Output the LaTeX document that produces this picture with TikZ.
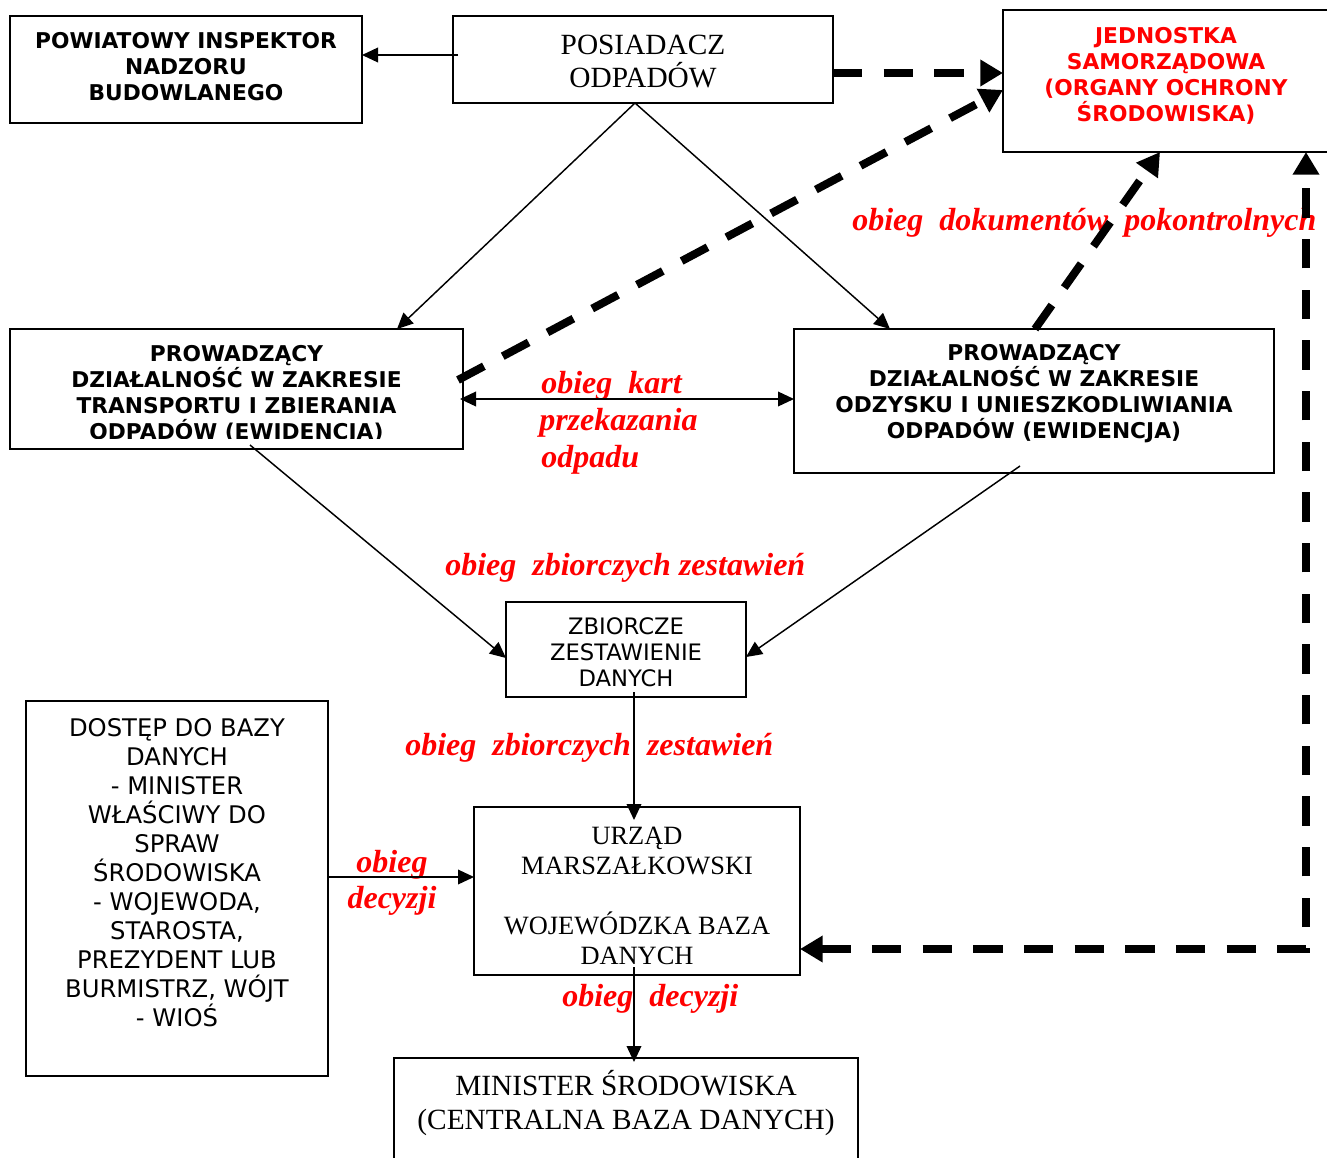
\documentclass[tikz,border=0pt]{standalone}
\usepackage{fontspec}
\setmainfont{Liberation Serif}
\newfontfamily\verd{DejaVu Sans}
\newfontfamily\tnr{Liberation Serif}
\usetikzlibrary{arrows.meta,fit,calc}
\tikzset{
  box/.style={draw, line width=1.5pt, inner sep=0pt, outer sep=0pt},
  vb/.style={font=\verd\bfseries\fontsize{16.3pt}{19.5pt}\selectfont, align=center, inner sep=0pt},
  vr/.style={font=\verd\fontsize{17pt}{19.5pt}\selectfont, align=center, inner sep=0pt},
  tr/.style={align=center, inner sep=0pt},
  lbl/.style={font=\tnr\bfseries\itshape\fontsize{24pt}{28pt}\selectfont, text=red, inner sep=0pt},
  arr/.style={line width=1.1pt, -{Triangle[length=12pt,width=11pt]}},
  darr/.style={line width=6pt, dash pattern=on 22pt off 16pt, -{Triangle[length=17pt,width=19pt]}},
  ddarr/.style={line width=6pt, dash pattern=on 22pt off 16pt, {Triangle[length=17pt,width=19pt]}-{Triangle[length=17pt,width=19pt]}}
}
\begin{document}
\begin{tikzpicture}[x=0.75pt,y=-0.75pt]
\useasboundingbox (0,0) rectangle (1327,1157);
% boxes
\node[box, fit={(10,16)(362,123)}] (pinb) {};
\node[box, fit={(453,16)(833,103)}] (posi) {};
\node[box, fit={(1003,10)(1345,152)}] (jst) {};
\node[box, fit={(10,329)(463,449)}] (lp) {};
\node[box, fit={(794,329)(1274,473)}] (rp) {};
\node[box, fit={(506,602)(746,697)}] (zb) {};
\node[box, fit={(26,701)(328,1076)}] (dost) {};
\node[box, fit={(474,807)(800,975)}] (urz) {};
\node[box, fit={(394,1058)(858,1175)}] (mini) {};
% texts
\node[vb] (pinb-t) at (186,67) {POWIATOWY INSPEKTOR\\NADZORU\\BUDOWLANEGO};
\node[tr, font=\tnr\fontsize{22pt}{24.75pt}\selectfont] (posi-t) at (643,61.5) {POSIADACZ\\ODPADÓW};
\node[vb, text=red] (jst-t) at (1166,76) {JEDNOSTKA\\SAMORZĄDOWA\\(ORGANY OCHRONY\\ŚRODOWISKA)};
\begin{scope}
\clip (10,329) rectangle (463,438);
\node[vb] (lp-t) at (236.5,394.5) {PROWADZĄCY\\DZIAŁALNOŚĆ W ZAKRESIE\\TRANSPORTU I ZBIERANIA\\ODPADÓW (EWIDENCJA)};
\end{scope}
\node[vb] (rp-t) at (1034,394) {PROWADZĄCY\\DZIAŁALNOŚĆ W ZAKRESIE\\ODZYSKU I UNIESZKODLIWIANIA\\ODPADÓW (EWIDENCJA)};
\node[vr] (zb-t) at (626,652.5) {ZBIORCZE\\ZESTAWIENIE\\DANYCH};
\node[vr, font=\verd\fontsize{18.2pt}{21.75pt}\selectfont] (dost-t) at (177,873) {DOSTĘP DO BAZY\\DANYCH\\- MINISTER\\WŁAŚCIWY DO\\SPRAW\\ŚRODOWISKA\\- WOJEWODA,\\STAROSTA,\\PREZYDENT LUB\\BURMISTRZ, WÓJT\\- WIOŚ};
\node[tr, font=\tnr\fontsize{19.8pt}{22.5pt}\selectfont] (urz-t) at (637,895.5) {URZĄD\\MARSZAŁKOWSKI\\[22.5pt]WOJEWÓDZKA BAZA\\DANYCH};
\node[tr, font=\tnr\fontsize{22pt}{25.5pt}\selectfont] (mini-t) at (626,1103.5) {MINISTER ŚRODOWISKA\\(CENTRALNA BAZA DANYCH)};
% labels
\node[lbl, anchor=mid west] (l1a) at (541,390) {obieg\ \ kart};
\node[lbl, anchor=mid west] (l1b) at (539,427) {przekazania};
\node[lbl, anchor=mid west] (l1c) at (541,464) {odpadu};
\node[lbl, anchor=mid west] (l2) at (852,227) {obieg\ \ dokumentów\ \ pokontrolnych};
\node[lbl, anchor=mid west] (l3) at (445,572) {obieg\ \ zbiorczych zestawień};
\node[lbl, anchor=mid west] (l4) at (405,752) {obieg\ \ zbiorczych\ \ zestawień};
\node[lbl, anchor=mid] (l5a) at (392,869) {obieg};
\node[lbl, anchor=mid] (l5b) at (392,905) {decyzji};
\node[lbl, anchor=mid west] (l6) at (562,1003) {obieg\ \ decyzji};
% connectors
\draw[arr] ($(posi.west)+(5,-4.5)$) -- ($(pinb.east)+(0,-14.5)$);
\draw[darr] ($(posi.east)+(0,13.5)$) -- ($(jst.west)+(0,-8)$);
\draw[darr] ($(lp.east)+(-5,-9)$) -- ($(jst.west)+(0,9)$);
\draw[darr] ($(rp.north)+(1,0)$) -- ($(jst.south)+(-14,0)$);
\coordinate (corner) at (1306,949);
\draw[ddarr] ($(urz.east)+(0,58)$) -- (corner) -- (corner |- jst.south);
\draw[arr] ($(posi.south)+(-8,0)$) -- ($(lp.north)+(160.5,0)$);
\draw[arr] ($(posi.south)+(-8,0)$) -- ($(rp.north)+(-144,0)$);
\draw[line width=1.1pt, {Triangle[length=12pt,width=11pt]}-{Triangle[length=12pt,width=11pt]}] ($(lp.east)+(-3,10)$) -- ($(rp.west)+(0,-2)$);
\draw[arr] ($(lp.south)+(13.5,-4)$) -- ($(zb.west)+(0,8.5)$);
\draw[arr] ($(rp.south)+(-14,-7)$) -- ($(zb.east)+(0,7.5)$);
\draw[arr] ($(zb.south)+(8,-5)$) -- ($(urz.north)+(-3,13)$);
\draw[arr] ($(dost.east)+(0,-11.5)$) -- ($(urz.west)+(0,-14)$);
\draw[arr] ($(urz.south)+(-3,-8)$) -- ($(mini.north)+(8,4)$);
\end{tikzpicture}
\end{document}
